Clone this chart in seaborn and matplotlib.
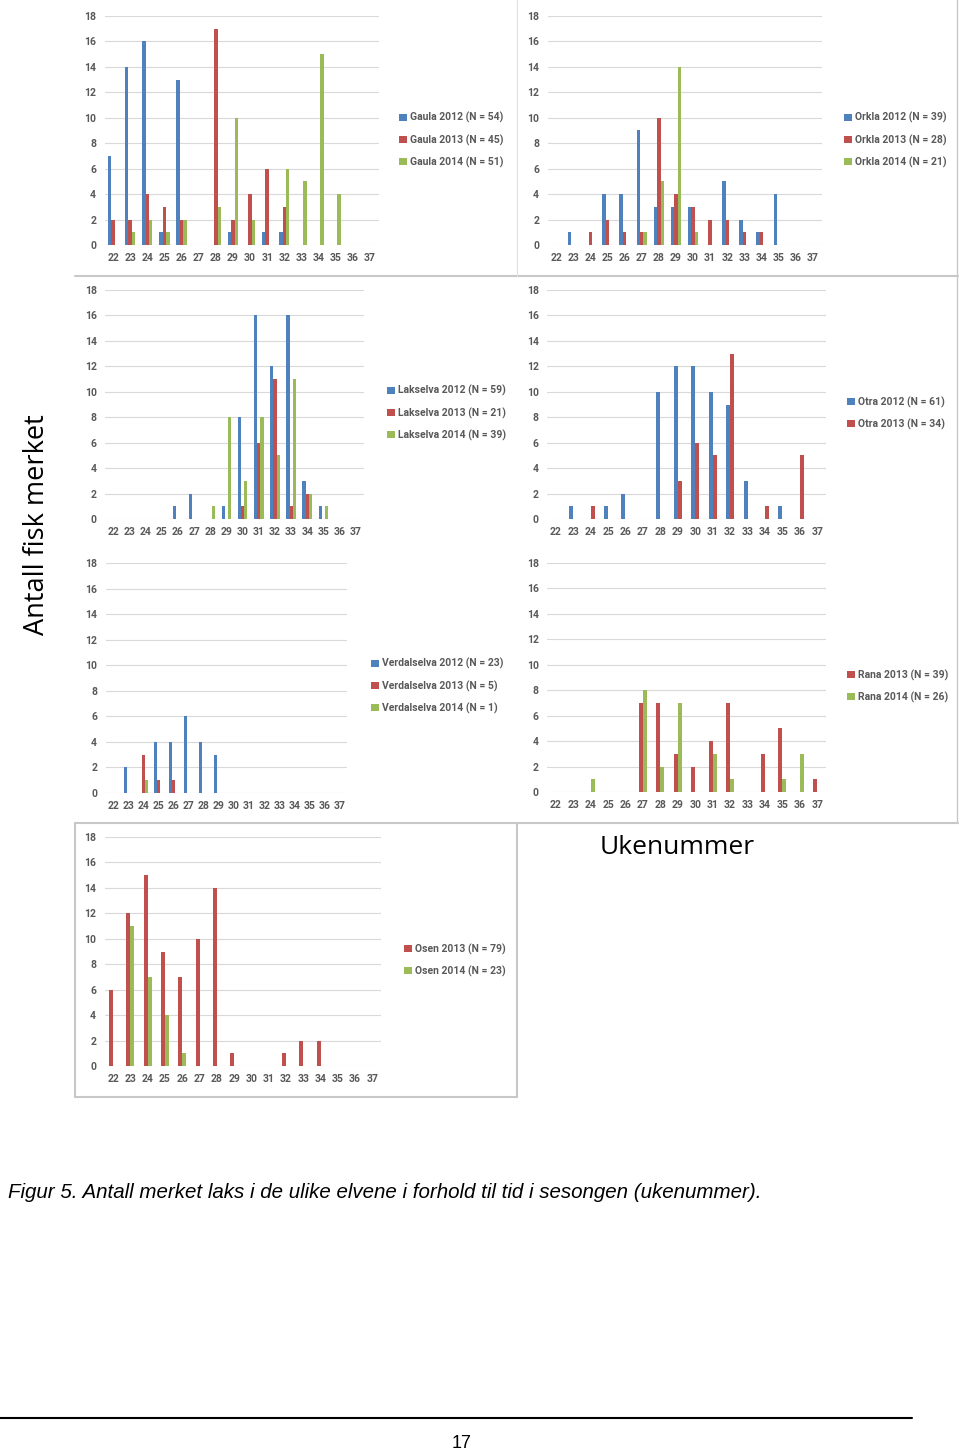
import numpy as np
import pandas as pd
import matplotlib
matplotlib.use("Agg")
import matplotlib.pyplot as plt
import seaborn as sns

# --- data (antall fisk per ukenummer 22-37) ---
weeks = list(range(22, 38))

gaula_names = ["Gaula 2012 (N = 54)", "Gaula 2013 (N = 45)", "Gaula 2014 (N = 51)"]
gaula_2012 = [7, 14, 16, 1, 13, 0, 0, 1, 0, 1, 1, 0, 0, 0, 0, 0]
gaula_2013 = [2, 2, 4, 3, 2, 0, 17, 2, 4, 6, 3, 0, 0, 0, 0, 0]
gaula_2014 = [0, 1, 2, 1, 2, 0, 3, 10, 2, 0, 6, 5, 15, 4, 0, 0]

orkla_names = ["Orkla 2012 (N = 39)", "Orkla 2013 (N = 28)", "Orkla 2014 (N = 21)"]
orkla_2012 = [0, 1, 0, 4, 4, 9, 3, 3, 3, 0, 5, 2, 1, 4, 0, 0]
orkla_2013 = [0, 0, 1, 2, 1, 1, 10, 4, 3, 2, 2, 1, 1, 0, 0, 0]
orkla_2014 = [0, 0, 0, 0, 0, 1, 5, 14, 1, 0, 0, 0, 0, 0, 0, 0]

lakselva_names = ["Lakselva 2012 (N = 59)", "Lakselva 2013 (N = 21)", "Lakselva 2014 (N = 39)"]
lakselva_2012 = [0, 0, 0, 0, 1, 2, 0, 1, 8, 16, 12, 16, 3, 1, 0, 0]
lakselva_2013 = [0, 0, 0, 0, 0, 0, 0, 0, 1, 6, 11, 1, 2, 0, 0, 0]
lakselva_2014 = [0, 0, 0, 0, 0, 0, 1, 8, 3, 8, 5, 11, 2, 1, 0, 0]

otra_names = ["Otra 2012 (N = 61)", "Otra 2013 (N = 34)"]
otra_2012 = [0, 1, 0, 1, 2, 0, 10, 12, 12, 10, 9, 3, 0, 1, 0, 0]
otra_2013 = [0, 0, 1, 0, 0, 0, 0, 3, 6, 5, 13, 0, 1, 0, 5, 0]

verdal_names = ["Verdalselva 2012 (N = 23)", "Verdalselva 2013 (N = 5)", "Verdalselva 2014 (N = 1)"]
verdal_2012 = [0, 2, 0, 4, 4, 6, 4, 3, 0, 0, 0, 0, 0, 0, 0, 0]
verdal_2013 = [0, 0, 3, 1, 1, 0, 0, 0, 0, 0, 0, 0, 0, 0, 0, 0]
verdal_2014 = [0, 0, 1, 0, 0, 0, 0, 0, 0, 0, 0, 0, 0, 0, 0, 0]

rana_names = ["Rana 2013 (N = 39)", "Rana 2014 (N = 26)"]
rana_2013 = [0, 0, 0, 0, 0, 7, 7, 3, 2, 4, 7, 0, 3, 5, 0, 1]
rana_2014 = [0, 0, 1, 0, 0, 8, 2, 7, 0, 3, 1, 0, 0, 1, 3, 0]

osen_names = ["Osen 2013 (N = 79)", "Osen 2014 (N = 23)"]
osen_2013 = [6, 12, 15, 9, 7, 10, 14, 1, 0, 0, 1, 2, 2, 0, 0, 0]
osen_2014 = [0, 11, 7, 4, 1, 0, 0, 0, 0, 0, 0, 0, 0, 0, 0, 0]

BLUE, RED, GREEN = "#4F81BD", "#C0504D", "#9BBB59"
TXT = "#595959"
FONT = ["Roboto", "DejaVu Sans"]

W, H = 960, 1454
sns.set_theme(style="white")
plt.rcParams["font.family"] = FONT
fig = plt.figure(figsize=(W / 100, H / 100), dpi=100)


def box(x0, y0, x1, y1):
    # pixel box (top-left origin) -> figure coords
    return [x0 / W, 1 - y1 / H, (x1 - x0) / W, (y1 - y0) / H]


def panel(px, names, series, colors, width, leg_x, leg_y):
    ax = fig.add_axes(box(*px))
    rows = []
    for name, vals in zip(names, series):
        for wk, v in zip(weeks, vals):
            rows.append({"uke": str(wk), "antall": v, "serie": name})
    df = pd.DataFrame(rows)
    sns.barplot(data=df, x="uke", y="antall", hue="serie", hue_order=names,
                order=[str(w) for w in weeks], palette=colors, width=width,
                linewidth=0, saturation=1, ax=ax)
    ax.set_ylim(0, 18)
    ax.set_xlim(-0.5, len(weeks) - 0.5)
    ax.set_yticks(range(0, 19, 2))
    ax.yaxis.grid(True, color="#D9D9D9", lw=0.8)
    ax.set_axisbelow(True)
    for s in ax.spines.values():
        s.set_visible(False)
    ax.set_xlabel("")
    ax.set_ylabel("")
    ax.tick_params(length=0, labelsize=7.5, labelcolor=TXT, pad=6)
    for lab in ax.get_xticklabels() + ax.get_yticklabels():
        lab.set_fontweight("bold")
    handles, labels = ax.get_legend_handles_labels()
    ax.legend(handles, labels, loc="center left",
              bbox_to_anchor=(leg_x / W, 1 - leg_y / H),
              bbox_transform=fig.transFigure, frameon=False,
              handlelength=0.7, handleheight=0.7, handletextpad=0.3,
              labelspacing=1.05, prop={"size": 7.5, "weight": "bold"},
              labelcolor=TXT, borderpad=0)
    return ax


panel((104.5, 16, 378.5, 245), gaula_names, [gaula_2012, gaula_2013, gaula_2014],
      [BLUE, RED, GREEN], 0.6, 394, 140)
panel((547.5, 16, 821.5, 245), orkla_names, [orkla_2012, orkla_2013, orkla_2014],
      [BLUE, RED, GREEN], 0.6, 839, 140)
panel((105, 290, 364, 519), lakselva_names, [lakselva_2012, lakselva_2013, lakselva_2014],
      [BLUE, RED, GREEN], 0.6, 382, 413)
panel((547, 290, 826, 519), otra_names, [otra_2012, otra_2013],
      [BLUE, RED], 0.46, 842, 413)
panel((105.5, 563, 347.5, 793), verdal_names, [verdal_2012, verdal_2013, verdal_2014],
      [BLUE, RED, GREEN], 0.6, 366, 686)
panel((547, 563, 826, 792), rana_names, [rana_2013, rana_2014],
      [RED, GREEN], 0.46, 842, 686)
panel((104.5, 837, 381, 1066), osen_names, [osen_2013, osen_2014],
      [RED, GREEN], 0.46, 399, 960)

# panel borders (as in the pasted screenshots)
gray = "#C8C8C8"
def hline(y, x0, x1, lw=1.5, c=gray):
    fig.add_artist(plt.Line2D([x0 / W, x1 / W], [1 - y / H, 1 - y / H], color=c, lw=lw))
def vline(x, y0, y1, lw=1.5, c=gray):
    fig.add_artist(plt.Line2D([x / W, x / W], [1 - y0 / H, 1 - y1 / H], color=c, lw=lw))

hline(276, 75, 958)
hline(823, 75, 958)
vline(957, 0, 823, lw=1.0)
vline(517, 0, 276, lw=0.8, c="#E0E0E0")
vline(75, 823, 1097)
vline(517, 823, 1097)
hline(1097, 75, 517)

# axis titles
fig.text(37 / W, 1 - 525 / H, "Antall fisk merket", rotation=90, ha="center", va="center",
         fontsize=19.5, color="black", family=["Open Sans", "DejaVu Sans"])
fig.text(677 / W, 1 - 847 / H, "Ukenummer", ha="center", va="center",
         fontsize=19, color="black", family=["Open Sans", "DejaVu Sans"])

# caption and footer
fig.text(8 / W, 1 - 1192 / H,
         "Figur 5. Antall merket laks i de ulike elvene i forhold til tid i sesongen (ukenummer).",
         ha="left", va="center", fontsize=14.8, style="italic",
         family=["Liberation Sans", "DejaVu Sans"], color="black")
hline(1418, 0, 912, lw=1.5, c="black")
fig.text(462 / W, 1 - 1443 / H, "17", ha="center", va="center", fontsize=13,
         family=["Liberation Sans", "DejaVu Sans"], color="black")

fig.savefig("out.png", dpi=100, facecolor="white")
